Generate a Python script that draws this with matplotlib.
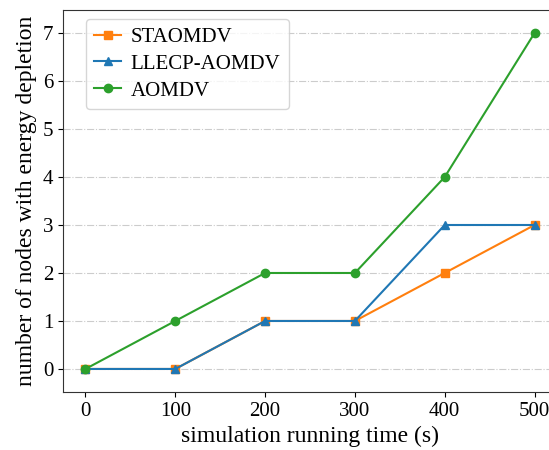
import matplotlib
matplotlib.use("Agg")
import matplotlib.pyplot as plt

time_s = [0, 100, 200, 300, 400, 500]
staomdv = [0, 0, 1, 1, 2, 3]
llecp_aomdv = [0, 0, 1, 1, 3, 3]
aomdv = [0, 1, 2, 2, 4, 7]

plt.rcParams['font.family'] = ['Liberation Serif', 'DejaVu Serif']

W, H = 549, 450
fig = plt.figure(figsize=(W/100, H/100), dpi=100)
l, r, t, b = 63, 557, 10, 392
ax = fig.add_axes([l/W, 1-b/H, (r-l)/W, (b-t)/H])

ax.plot(time_s, staomdv, marker='s', color='#ff7f0e', label='STAOMDV', markersize=6)
ax.plot(time_s, llecp_aomdv, marker='^', color='#1f77b4', label='LLECP-AOMDV', markersize=6)
ax.plot(time_s, aomdv, marker='o', color='#2ca02c', label='AOMDV', markersize=6)

ax.set_xlim(-25, 525)
ax.set_ylim(-0.48, 7.48)
ax.set_xticks([0, 100, 200, 300, 400, 500])
ax.set_yticks(range(0, 8))
ax.grid(axis='y', linestyle='-.', color='#cccccc', linewidth=0.8)
ax.set_axisbelow(True)
ax.tick_params(labelsize=15)
ax.set_xlabel('simulation running time (s)', fontsize=17)
ax.set_ylabel('number of nodes with energy depletion', fontsize=17)
ax.legend(loc='upper left', fontsize=15, bbox_to_anchor=(23/(r-l), 1-9/(b-t)),
          borderaxespad=0, labelspacing=0.35, handlelength=1.3, handletextpad=0.45)
for s in ax.spines.values():
    s.set_color('#333333')

fig.savefig('out.png', dpi=100)
